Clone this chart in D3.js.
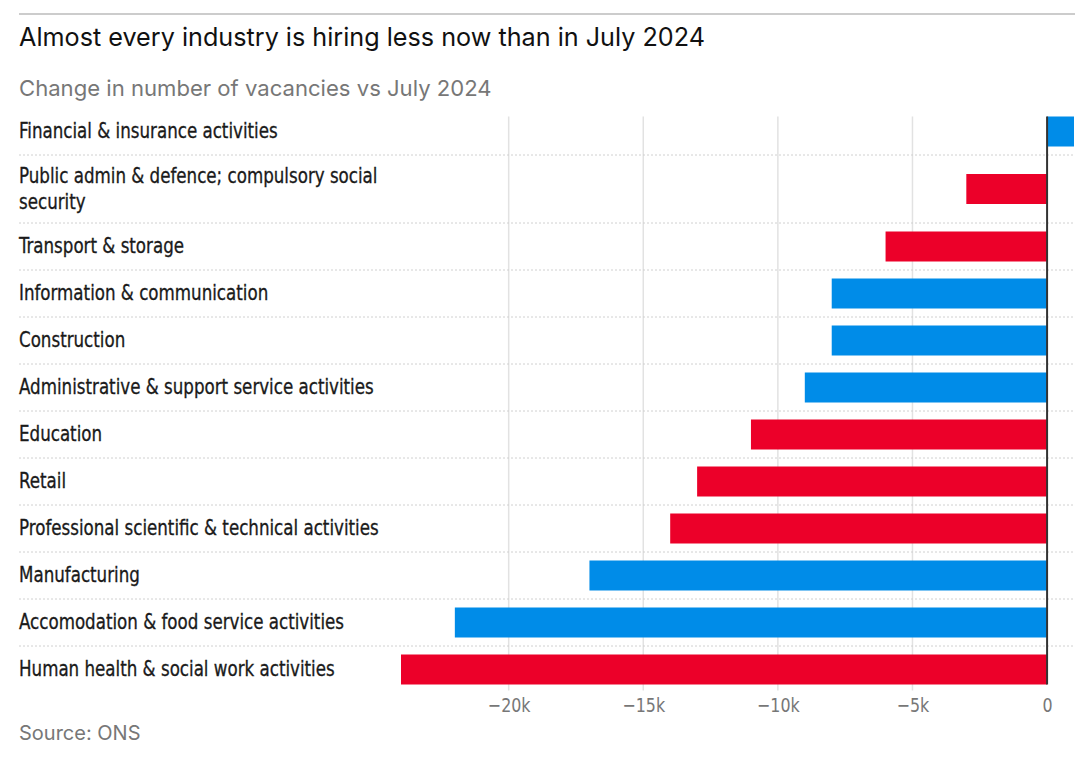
<!DOCTYPE html>
<html>
<head>
<meta charset="utf-8">
<script src="https://cdn.jsdelivr.net/npm/d3@7"></script>
<style>
  body { margin: 0; background: #fff; }
  .label { font-family: "DejaVu Sans Condensed", "DejaVu Sans", sans-serif; font-stretch: condensed; font-size: 20.5px; fill: #1a1a1a; stroke: #1a1a1a; stroke-width: 0.3px; }
  .tick-label { font-family: "DejaVu Sans Condensed", "DejaVu Sans", sans-serif; font-stretch: condensed; font-size: 19.5px; fill: #777; }
</style>
</head>
<body>
<div id="chart"></div>
<script>
const categories = [
  ['Financial & insurance activities'],
  ['Public admin & defence; compulsory social', 'security'],
  ['Transport & storage'],
  ['Information & communication'],
  ['Construction'],
  ['Administrative & support service activities'],
  ['Education'],
  ['Retail'],
  ['Professional scientific & technical activities'],
  ['Manufacturing'],
  ['Accomodation & food service activities'],
  ['Human health & social work activities']
];
const values = [1000, -3000, -6000, -8000, -8000, -9000, -11000, -13000, -14000, -17000, -22000, -24000];
const sector = ['blue', 'red', 'red', 'blue', 'blue', 'blue', 'red', 'red', 'red', 'blue', 'blue', 'red'];
const tickValues = [-20000, -15000, -10000, -5000, 0];

const colours = { blue: '#008ce8', red: '#ec0029' };

const width = 1080, height = 768;
const left = 19, right = 1075;
const squeeze = 0.905; // narrow the label font to look condensed

const svg = d3.select('#chart').append('svg')
  .attr('width', width)
  .attr('height', height);

// Top rule
svg.append('line')
  .attr('x1', left).attr('x2', right)
  .attr('y1', 14).attr('y2', 14)
  .attr('stroke', '#bbb').attr('stroke-width', 1.5);

svg.append('text')
  .attr('x', left).attr('y', 46)
  .attr('font-family', 'Inter, "Open Sans", sans-serif')
  .attr('font-size', 25.2)
  .attr('fill', '#111')
  .text('Almost every industry is hiring less now than in July 2024');

svg.append('text')
  .attr('x', left).attr('y', 96)
  .attr('font-family', 'Inter, "Open Sans", sans-serif')
  .attr('font-size', 22.1)
  .attr('fill', '#777')
  .text('Change in number of vacancies vs July 2024');

// Row layout: one-line rows 47px, two-line rows 68px
const rows = [];
let y0 = 108;
categories.forEach((c, i) => {
  const h = c.length > 1 ? 68 : 47;
  rows.push({ lines: c, value: values[i], sector: sector[i], top: y0, h: h, mid: y0 + h / 2 });
  y0 += h;
});

const x = d3.scaleLinear()
  .domain([-24000, 1000])
  .range([401, 1074]);

const barH = 30;
const plotTop = rows[0].mid - barH / 2;
const plotBottom = rows[rows.length - 1].mid + barH / 2;

// Vertical gridlines
svg.append('g').selectAll('line')
  .data(tickValues.filter(d => d !== 0))
  .enter().append('line')
    .attr('x1', d => x(d)).attr('x2', d => x(d))
    .attr('y1', plotTop).attr('y2', plotBottom + 6)
    .attr('stroke', '#e2e2e2').attr('stroke-width', 1.5);

// Dotted row separators
svg.append('g').selectAll('line')
  .data(rows.slice(1))
  .enter().append('line')
    .attr('x1', left).attr('x2', right)
    .attr('y1', d => d.top).attr('y2', d => d.top)
    .attr('stroke', '#d0d0d0').attr('stroke-width', 1)
    .attr('stroke-dasharray', '2,2');

// Bars
svg.append('g').selectAll('rect')
  .data(rows)
  .enter().append('rect')
    .attr('x', d => x(Math.min(0, d.value)))
    .attr('width', d => Math.abs(x(d.value) - x(0)))
    .attr('y', d => d.mid - barH / 2)
    .attr('height', barH)
    .attr('fill', d => colours[d.sector]);

// Zero line
svg.append('line')
  .attr('x1', x(0)).attr('x2', x(0))
  .attr('y1', plotTop).attr('y2', plotBottom)
  .attr('stroke', '#333').attr('stroke-width', 2);

// Category labels
const labels = svg.append('g')
  .attr('transform', `translate(${left},0) scale(${squeeze},1)`)
  .selectAll('text')
  .data(rows)
  .enter().append('text')
    .attr('class', 'label')
    .attr('x', 0)
    .attr('y', d => d.mid - (d.lines.length - 1) * 13 + 7);

labels.selectAll('tspan')
  .data(d => d.lines)
  .enter().append('tspan')
    .attr('x', 0)
    .attr('dy', (d, i) => i === 0 ? 0 : 26)
    .text(d => d);

// Axis
const axis = svg.append('g')
  .attr('transform', `translate(0,${plotBottom})`)
  .call(d3.axisBottom(x)
    .tickValues(tickValues)
    .tickSize(0)
    .tickPadding(14)
    .tickFormat(d => d === 0 ? '0' : '\u2212' + Math.abs(d / 1000) + 'k'));
axis.select('.domain').remove();
axis.selectAll('text')
  .attr('class', 'tick-label')
  .attr('fill', null)
  .attr('transform', `scale(${squeeze},1)`);

svg.append('text')
  .attr('x', left).attr('y', 740)
  .attr('font-family', 'Inter, "Open Sans", sans-serif')
  .attr('font-size', 20)
  .attr('fill', '#777')
  .text('Source: ONS');
</script>
</body>
</html>
